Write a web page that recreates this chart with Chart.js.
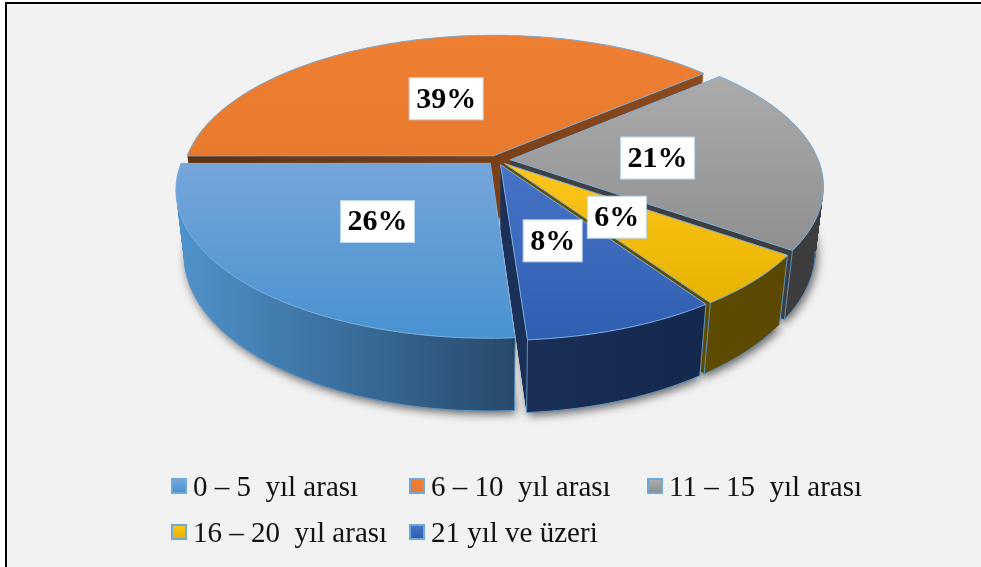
<!DOCTYPE html>
<html>
<head>
<meta charset="utf-8">
<title>Pie</title>
<script src="https://cdn.jsdelivr.net/npm/chart.js@4"></script>
<style>
    html, body { margin: 0; padding: 0; background: #fff; overflow: hidden; }
    #frame { position: absolute; left: 5px; top: 2px; width: 974px; height: 565px; border-left: 2px solid #000; border-top: 2px solid #000; background: #f2f2f2; }
    #pieChart { position: absolute; left: 0; top: 0; }
    #legend { position: absolute; left: 171px; top: 463px; display: grid; grid-template-columns: 238px 238px 238px; grid-auto-rows: 46px; font: 29px "Liberation Serif", serif; color: #111; }
    .item { display: flex; align-items: center; white-space: pre; }
    .swatch { width: 12px; height: 12px; border: 2px solid #6fa8dc; margin-right: 6px; flex: none; }
</style>
</head>
<body>
<div id="frame"></div>
<canvas id="pieChart" width="981" height="567"></canvas>
<div id="legend"></div>
<script>
const categories = ["0 – 5  yıl arası", "6 – 10  yıl arası", "11 – 15  yıl arası", "16 – 20  yıl arası", "21 yıl ve üzeri"];
const shares = [26.1, 38.8, 20.9, 5.75, 8.45];
const explode = [33, 33, 45, 36, 36];

const topLight = ["#76a5da", "#ee7e32", "#ababab", "#ffc61c", "#4873c6"];
const topDark = ["#4792d0", "#e87a2e", "#8f8f8f", "#e6b300", "#2f5fb2"];
const sideLeft = ["#4f93cc", "#5f3210", "#414141", "#655200", "#1b3159"];
const sideRight = ["#27496b", "#8c4a1e", "#3c3c3c", "#5a4800", "#14274d"];

const labelNudge = [[8, -2], [4, 8], [-19, 2], [-13, -5], [-8, -4]];

// camera for the tilted disc
const centerX = 497, centerY = 160;
const spreadX = 308, spreadY = 143, depth = 66;
const tilt = 0.175, drop = 0.025;

function project(u, v, h) {
    let w = 1 - tilt * v + drop * h;
    return [centerX + spreadX * u / w, centerY + (spreadY * v + depth * h) / w];
}

function sectorPoints(arc, h) {
    let R = arc.outerRadius;
    let mid = (arc.startAngle + arc.endAngle) / 2;
    let e = arc.options.offset / 4 / R;
    let ou = e * Math.cos(mid), ov = e * Math.sin(mid);
    let steps = Math.ceil((arc.endAngle - arc.startAngle) * 180 / Math.PI);
    let rim = [];
    let front = [];
    for (let i = 0; i <= steps; i++) {
        let a = arc.startAngle + (arc.endAngle - arc.startAngle) * i / steps;
        rim.push(project(ou + Math.cos(a), ov + Math.sin(a), h));
        // only the part of the rim that faces the viewer
        if (Math.sin(a) > tilt) front.push(i);
    }
    return { apex: project(ou, ov, h), rim: rim, front: front };
}

function tracePoints(ctx, pts, move) {
    pts.forEach((p, i) => {
        if (i == 0 && move) ctx.moveTo(p[0], p[1]);
        else ctx.lineTo(p[0], p[1]);
    });
}

function fillSector(ctx, s) {
    ctx.beginPath();
    ctx.moveTo(s.apex[0], s.apex[1]);
    tracePoints(ctx, s.rim, false);
    ctx.closePath();
    ctx.fill();
}

const pie3d = {
    id: 'pie3d',
    beforeDatasetsDraw(chart) {
        let ctx = chart.ctx;
        let arcs = chart.getDatasetMeta(0).data;
        let order = arcs.map((a, i) => i);
        order.sort((p, q) => Math.sin((arcs[p].startAngle + arcs[p].endAngle) / 2) - Math.sin((arcs[q].startAngle + arcs[q].endAngle) / 2));

        ctx.save();
        // walls, back to front
        order.forEach(i => {
            let arc = arcs[i];
            let top = sectorPoints(arc, 0);
            let xs = top.rim.map(p => p[0]).concat(top.apex[0]);
            let g = ctx.createLinearGradient(Math.min(...xs), 0, Math.max(...xs), 0);
            g.addColorStop(0, sideLeft[i]);
            g.addColorStop(1, sideRight[i]);
            ctx.fillStyle = g;
            for (let n = 72; n >= 0; n--) {
                if (n == 72) {
                    ctx.shadowColor = 'rgba(0,0,0,0.6)';
                    ctx.shadowBlur = 10;
                    ctx.shadowOffsetX = 2;
                    ctx.shadowOffsetY = 3;
                }
                fillSector(ctx, sectorPoints(arc, n / 72));
                ctx.shadowColor = 'transparent';
            }
            let low = sectorPoints(arc, 1);
            if (low.front.length) {
                ctx.strokeStyle = '#5b94c4';
                ctx.lineWidth = 1;
                ctx.beginPath();
                tracePoints(ctx, low.front.map(k => low.rim[k]), true);
                [0, low.rim.length - 1].forEach(k => {
                    if (!low.front.includes(k)) return;
                    ctx.moveTo(top.rim[k][0], top.rim[k][1]);
                    ctx.lineTo(low.rim[k][0], low.rim[k][1]);
                });
                ctx.stroke();
            }
        });
        // top faces
        order.forEach(i => {
            let s = sectorPoints(arcs[i], 0);
            let ys = s.rim.map(p => p[1]).concat(s.apex[1]);
            let g = ctx.createLinearGradient(0, Math.min(...ys), 0, Math.max(...ys));
            g.addColorStop(0, topLight[i]);
            g.addColorStop(1, topDark[i]);
            ctx.fillStyle = g;
            fillSector(ctx, s);
            ctx.strokeStyle = arcs[i].options.borderColor;
            ctx.lineWidth = 1;
            ctx.stroke();
        });
        ctx.restore();
        return false; // the flat arcs are replaced by the tilted ones
    },
    afterDraw(chart) {
        let ctx = chart.ctx;
        let arcs = chart.getDatasetMeta(0).data;
        ctx.save();
        ctx.font = 'bold 30px "Liberation Serif", serif';
        ctx.textAlign = 'center';
        ctx.textBaseline = 'middle';
        [4, 3, 2, 1, 0].forEach(i => {
            let arc = arcs[i];
            let c = arc.getCenterPoint();
            let p = project((c.x - arc.x) / arc.outerRadius, (c.y - arc.y) / arc.outerRadius, 0);
            let text = Math.round(shares[i]) + '%';
            let w = ctx.measureText(text).width + 14;
            let x = p[0] + labelNudge[i][0], y = p[1] + labelNudge[i][1];
            ctx.fillStyle = '#fff';
            ctx.strokeStyle = '#bcd7ee';
            ctx.lineWidth = 1;
            ctx.fillRect(x - w / 2, y - 21, w, 42);
            ctx.strokeRect(x - w / 2, y - 21, w, 42);
            ctx.fillStyle = '#000';
            ctx.fillText(text, x, y + 1);
        });
        ctx.restore();
    }
};

new Chart("pieChart", {
    type: "pie",
    plugins: [pie3d],
    data: {
        labels: categories,
        datasets: [{
            data: shares,
            backgroundColor: topDark,
            borderColor: "#7fb0de",
            offset: explode
        }]
    },
    options: {
        responsive: false,
        animation: false,
        rotation: 176,
        plugins: {
            legend: { display: false },
            tooltip: { enabled: false }
        }
    }
});

let legend = document.getElementById("legend");
categories.forEach((name, i) => {
    let item = document.createElement("div");
    item.className = "item";
    let swatch = document.createElement("span");
    swatch.className = "swatch";
    swatch.style.background = "linear-gradient(" + topLight[i] + "," + topDark[i] + ")";
    item.appendChild(swatch);
    item.appendChild(document.createTextNode(name));
    legend.appendChild(item);
});
</script>
</body>
</html>
